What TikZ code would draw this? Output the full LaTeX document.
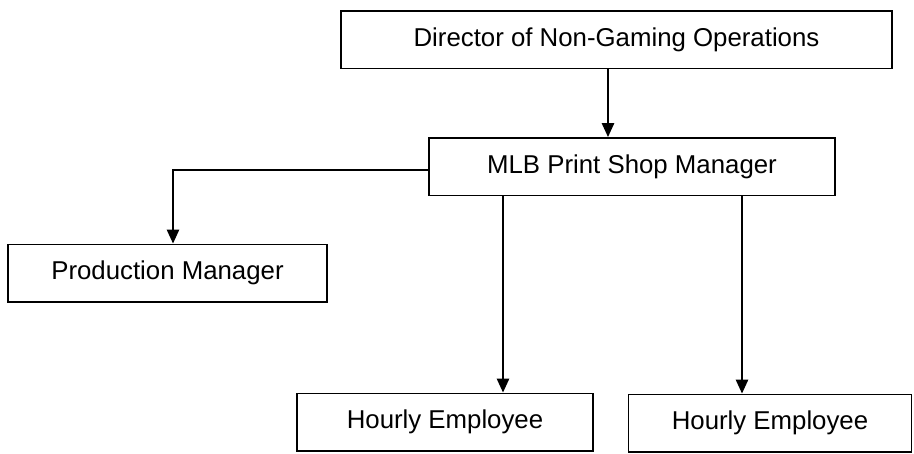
\documentclass[tikz,border=0pt]{standalone}
\usepackage{fontspec}
\setmainfont{Liberation Sans}
\usetikzlibrary{arrows.meta}
\begin{document}
\begin{tikzpicture}[x=1pt,y=-1pt,
  box/.style={draw=black, line width=1.5pt, inner sep=0pt, minimum height=57.5pt,
    font=\fontsize{25.8}{30}\selectfont, anchor=center},
  arr/.style={draw=black, line width=1.4pt, -{Triangle[length=14pt,width=12.5pt]}}]
\useasboundingbox (0,0) rectangle (914,453);
\node[box, minimum width=551pt] (d) at (616.5,39.5) {Director of Non-Gaming Operations};
\node[box, minimum width=406pt] (m) at (632,166.5) {MLB Print Shop Manager};
\node[box, minimum width=319pt] (p) at (167.5,273) {Production Manager};
\node[box, minimum width=296pt] (h1) at (445,422) {Hourly Employee};
\node[box, minimum width=283pt] (h2) at (770,423) {Hourly Employee};
\draw[arr] ([xshift=-8.5pt]d.south) -- ([xshift=-24pt]m.north);
\draw[arr] ([yshift=-3.5pt]m.west) -| ([xshift=5.5pt]p.north);
\draw[arr] ([xshift=-129pt]m.south) -- ([xshift=58pt]h1.north);
\draw[arr] ([xshift=110pt]m.south) -- ([xshift=-28pt]h2.north);
\end{tikzpicture}
\end{document}
